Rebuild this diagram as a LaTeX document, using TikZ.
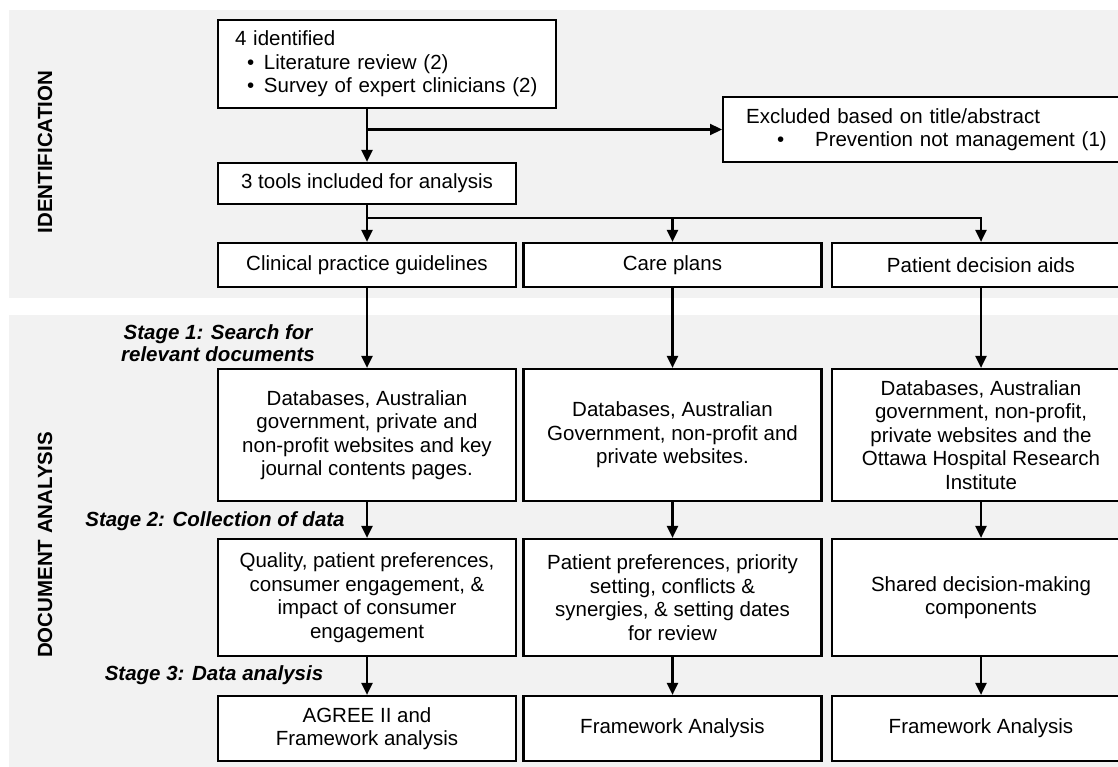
\documentclass[tikz,border=0pt]{standalone}
\usepackage{fontspec}
\setmainfont{Liberation Sans}
\usepackage{xcolor}
\usepackage{tikz}
\usetikzlibrary{arrows.meta}
\definecolor{panelgray}{HTML}{F2F2F2}

\begin{document}
\begin{tikzpicture}[x=1pt,y=-1pt,
    every node/.style={font=\fontsize{20.5}{23.5}\selectfont},
    box/.style={draw,fill=white,line width=2.2pt,align=center,inner sep=4pt},
    arr/.style={line width=2.2pt,-{Triangle[length=12pt,width=11pt]}},
    stage/.style={font=\fontsize{20.5}{22}\selectfont\bfseries\itshape,align=center},
    side/.style={font=\fontsize{20.5}{23.5}\selectfont\bfseries,rotate=90}]
    \useasboundingbox (0,0) rectangle (1118,767);
    \clip (0,0) rectangle (1118,767);

    % background bands
    \fill[panelgray] (9,10) rectangle (1130,298);
    \fill[panelgray] (9,315) rectangle (1130,780);
    \node[side] (identlabel) at (45,152) {IDENTIFICATION};
    \node[side] (doclabel) at (45,545) {DOCUMENT ANALYSIS};

    % identification
    \node[box,align=left,text width=304,inner xsep=17,minimum height=88] (ident) at (387,64)
      {4 identified\\
       \hspace*{12pt}\makebox[17pt][l]{\textbullet}Literature review (2)\\
       \hspace*{12pt}\makebox[17pt][l]{\textbullet}Survey of expert clinicians (2)};
    \node[box,align=left,text width=362,inner xsep=23,minimum height=65,anchor=west] (excl) at (722,129.5)
      {Excluded based on title/abstract\\
       \hspace*{31pt}\makebox[38pt][l]{\textbullet}Prevention not management (1)};
    \node[box,minimum width=298,minimum height=41] (tools) at (367,183.5) {3 tools included for analysis};

    \foreach \n/\x/\t in {cpg/367/Clinical practice guidelines,
                          cp/672.5/Care plans,
                          pda/981/Patient decision aids} {
      \node[box,minimum width=298,minimum height=44] (\n) at (\x,265) {\t};
    }

    % document analysis
    \node[stage] (stage1) at (218,343) {Stage 1: Search for\\relevant documents};
    \node[stage] (stage2) at (215,521) {Stage 2: Collection of data};
    \node[stage] (stage3) at (214,675) {Stage 3: Data analysis};

    \foreach \n/\x/\t in {cpg/367/{Databases, Australian\\government, private and\\non-profit websites and key\\journal contents pages.},
                          cp/672.5/{Databases, Australian\\Government, non-profit and\\private websites.},
                          pda/981/{Databases, Australian\\government, non-profit,\\private websites and the\\Ottawa Hospital Research\\Institute}} {
      \node[box,minimum width=298,minimum height=132] (\n-search) at (\x,435) {\t};
    }
    \foreach \n/\x/\t in {cpg/367/{Quality, patient preferences,\\consumer engagement, \&\\impact of consumer\\engagement},
                          cp/672.5/{Patient preferences, priority\\setting, conflicts \&\\synergies, \& setting dates\\for review},
                          pda/981/{Shared decision-making\\components}} {
      \node[box,minimum width=298,minimum height=117] (\n-data) at (\x,597.5) {\t};
    }
    \foreach \n/\x/\t in {cpg/367/{AGREE II and\\Framework analysis},
                          cp/672.5/{Framework Analysis},
                          pda/981/{Framework Analysis}} {
      \node[box,minimum width=298,minimum height=65] (\n-analysis) at (\x,728.5) {\t};
    }

    % connectors
    \coordinate (split1) at (tools.north |- excl.west);
    \coordinate (split2) at ([yshift=-13pt]tools.south);
    \draw[arr] (ident.south -| tools.north) -- (tools.north);
    \draw[arr] (split1) -- (excl.west);
    \draw[arr] (tools.south) -- (cpg.north);
    \draw[arr] (split2) -| (pda.north);
    \draw[arr] (split2 -| cp.north) -- (cp.north);
    \foreach \n in {cpg,cp,pda} {
      \draw[arr] (\n.south) -- (\n-search.north);
      \draw[arr] (\n-search.south) -- (\n-data.north);
      \draw[arr] (\n-data.south) -- (\n-analysis.north);
    }
\end{tikzpicture}
\end{document}
